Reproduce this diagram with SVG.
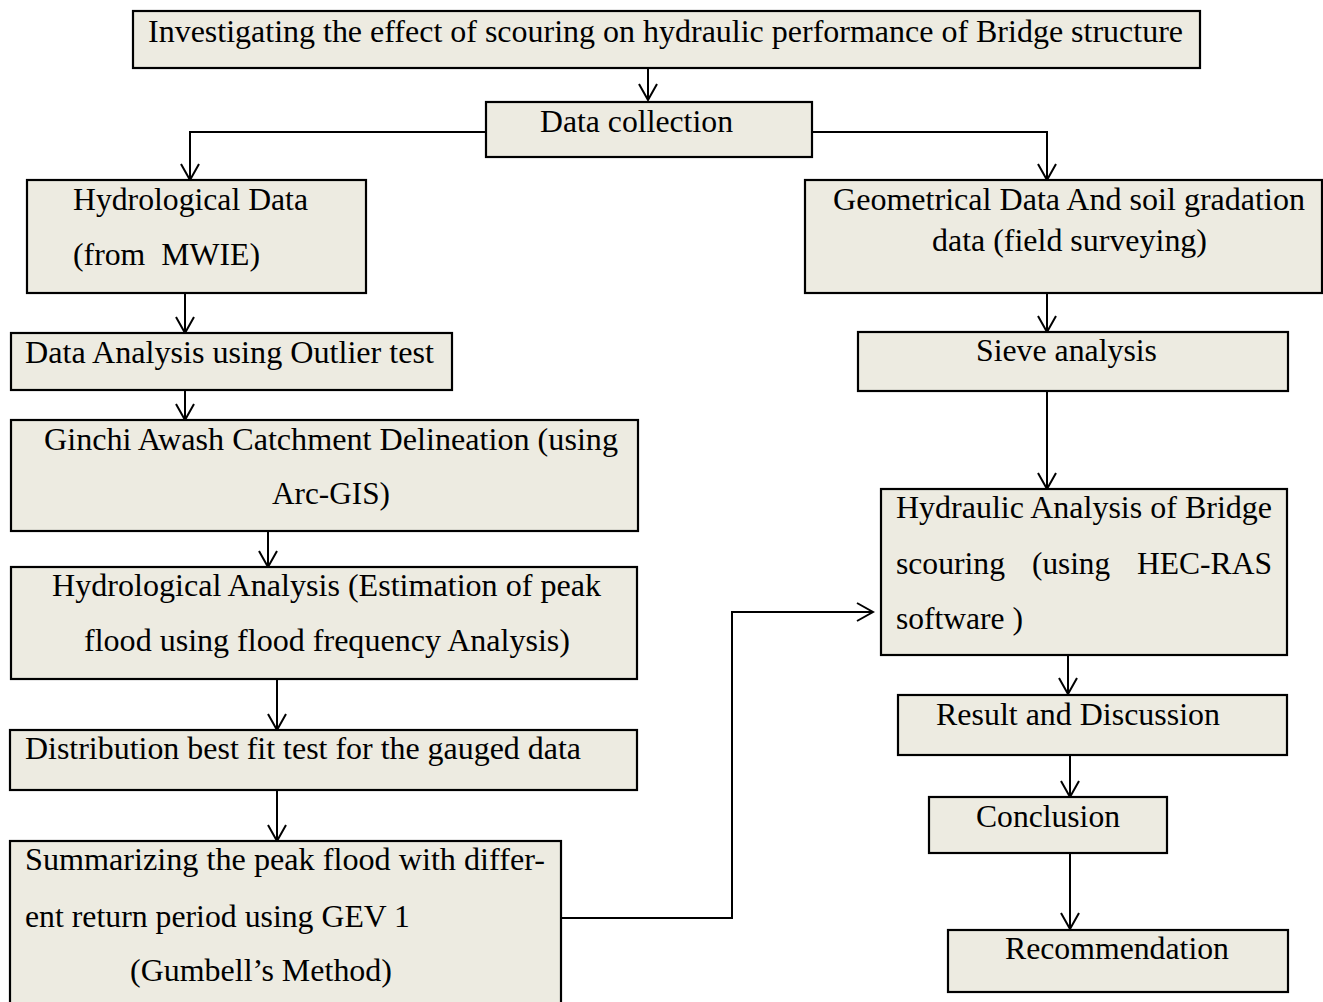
<svg xmlns="http://www.w3.org/2000/svg" width="1323" height="1002" viewBox="0 0 1323 1002">
<style>
.box{fill:#EDEBE1;stroke:#000;stroke-width:2.2}
.t{font-family:"Liberation Serif","Times New Roman",serif;font-size:31px;fill:#000;white-space:pre}
.c{fill:none;stroke:#000;stroke-width:2;marker-end:url(#ah)}
</style>
<defs>
<marker id="ah" viewBox="0 0 20 20" refX="18" refY="10" markerWidth="20" markerHeight="20" markerUnits="userSpaceOnUse" orient="auto">
<path d="M2,1 L18,10 L2,19" fill="none" stroke="#000" stroke-width="2"/>
</marker>
</defs>
<rect width="1323" height="1002" fill="#fff"/>
<g id="connectors">
<path class="c" d="M648,68 V100"/>
<path class="c" d="M486,132 H190 V180"/>
<path class="c" d="M812,132 H1047 V180"/>
<path class="c" d="M185,293 V333"/>
<path class="c" d="M185,390 V420"/>
<path class="c" d="M268,531 V567"/>
<path class="c" d="M277,679 V730"/>
<path class="c" d="M277,790 V841"/>
<path class="c" d="M561,918 H732 V612 H873"/>
<path class="c" d="M1047,293 V332"/>
<path class="c" d="M1047,391 V489"/>
<path class="c" d="M1068,651 V694"/>
<path class="c" d="M1070,755 V797"/>
<path class="c" d="M1070,853 V929"/>
</g>
<g id="title"><rect class="box" x="133" y="11" width="1067" height="57"/>
<text class="t" x="148" y="42" textLength="1035" lengthAdjust="spacingAndGlyphs">Investigating the effect of scouring on hydraulic performance of Bridge structure</text></g>
<g id="data-collection"><rect class="box" x="486" y="102" width="326" height="55"/>
<text class="t" x="540" y="132" textLength="193" lengthAdjust="spacingAndGlyphs">Data collection</text></g>
<g id="hydrological-data"><rect class="box" x="27" y="180" width="339" height="113"/>
<text class="t" x="73" y="210" textLength="235" lengthAdjust="spacingAndGlyphs">Hydrological Data</text>
<text class="t" x="73" y="265" textLength="187" lengthAdjust="spacingAndGlyphs">(from  MWIE)</text></g>
<g id="geometrical-data"><rect class="box" x="805" y="180" width="517" height="113"/>
<text class="t" x="833" y="210" textLength="472" lengthAdjust="spacingAndGlyphs">Geometrical Data And soil gradation</text>
<text class="t" x="932" y="251" textLength="275" lengthAdjust="spacingAndGlyphs">data (field surveying)</text></g>
<g id="data-analysis"><rect class="box" x="11" y="333" width="441" height="57"/>
<text class="t" x="25" y="363" textLength="409" lengthAdjust="spacingAndGlyphs">Data Analysis using Outlier test</text></g>
<g id="sieve-analysis"><rect class="box" x="858" y="332" width="430" height="59"/>
<text class="t" x="976" y="361" textLength="181" lengthAdjust="spacingAndGlyphs">Sieve analysis</text></g>
<g id="catchment-delineation"><rect class="box" x="11" y="420" width="627" height="111"/>
<text class="t" x="44" y="450" textLength="574" lengthAdjust="spacingAndGlyphs">Ginchi Awash Catchment Delineation (using</text>
<text class="t" x="272" y="504" textLength="118" lengthAdjust="spacingAndGlyphs">Arc-GIS)</text></g>
<g id="hydrological-analysis"><rect class="box" x="11" y="567" width="626" height="112"/>
<text class="t" x="52" y="596" textLength="549" lengthAdjust="spacingAndGlyphs">Hydrological Analysis (Estimation of peak</text>
<text class="t" x="84" y="651" textLength="486" lengthAdjust="spacingAndGlyphs">flood using flood frequency Analysis)</text></g>
<g id="hydraulic-analysis"><rect class="box" x="881" y="489" width="406" height="166"/>
<text class="t" x="896" y="518" textLength="376" lengthAdjust="spacingAndGlyphs">Hydraulic Analysis of Bridge</text>
<text class="t" x="896" y="574" textLength="109" lengthAdjust="spacingAndGlyphs">scouring</text>
<text class="t" x="1032" y="574" textLength="78" lengthAdjust="spacingAndGlyphs">(using</text>
<text class="t" x="1137" y="574" textLength="135" lengthAdjust="spacingAndGlyphs">HEC-RAS</text>
<text class="t" x="896" y="629" textLength="127" lengthAdjust="spacingAndGlyphs">software )</text></g>
<g id="distribution-test"><rect class="box" x="10" y="730" width="627" height="60"/>
<text class="t" x="25" y="759" textLength="556" lengthAdjust="spacingAndGlyphs">Distribution best fit test for the gauged data</text></g>
<g id="result-discussion"><rect class="box" x="898" y="695" width="389" height="60"/>
<text class="t" x="936" y="725" textLength="284" lengthAdjust="spacingAndGlyphs">Result and Discussion</text></g>
<g id="conclusion"><rect class="box" x="929" y="797" width="238" height="56"/>
<text class="t" x="976" y="827" textLength="144" lengthAdjust="spacingAndGlyphs">Conclusion</text></g>
<g id="summarizing"><rect class="box" x="10" y="841" width="551" height="165"/>
<text class="t" x="25" y="870" textLength="520" lengthAdjust="spacingAndGlyphs">Summarizing the peak flood with differ-</text>
<text class="t" x="25" y="927" textLength="385" lengthAdjust="spacingAndGlyphs">ent return period using GEV 1</text>
<text class="t" x="130" y="981" textLength="262" lengthAdjust="spacingAndGlyphs">(Gumbell’s Method)</text></g>
<g id="recommendation"><rect class="box" x="948" y="930" width="340" height="62"/>
<text class="t" x="1005" y="959" textLength="224" lengthAdjust="spacingAndGlyphs">Recommendation</text></g>
</svg>
